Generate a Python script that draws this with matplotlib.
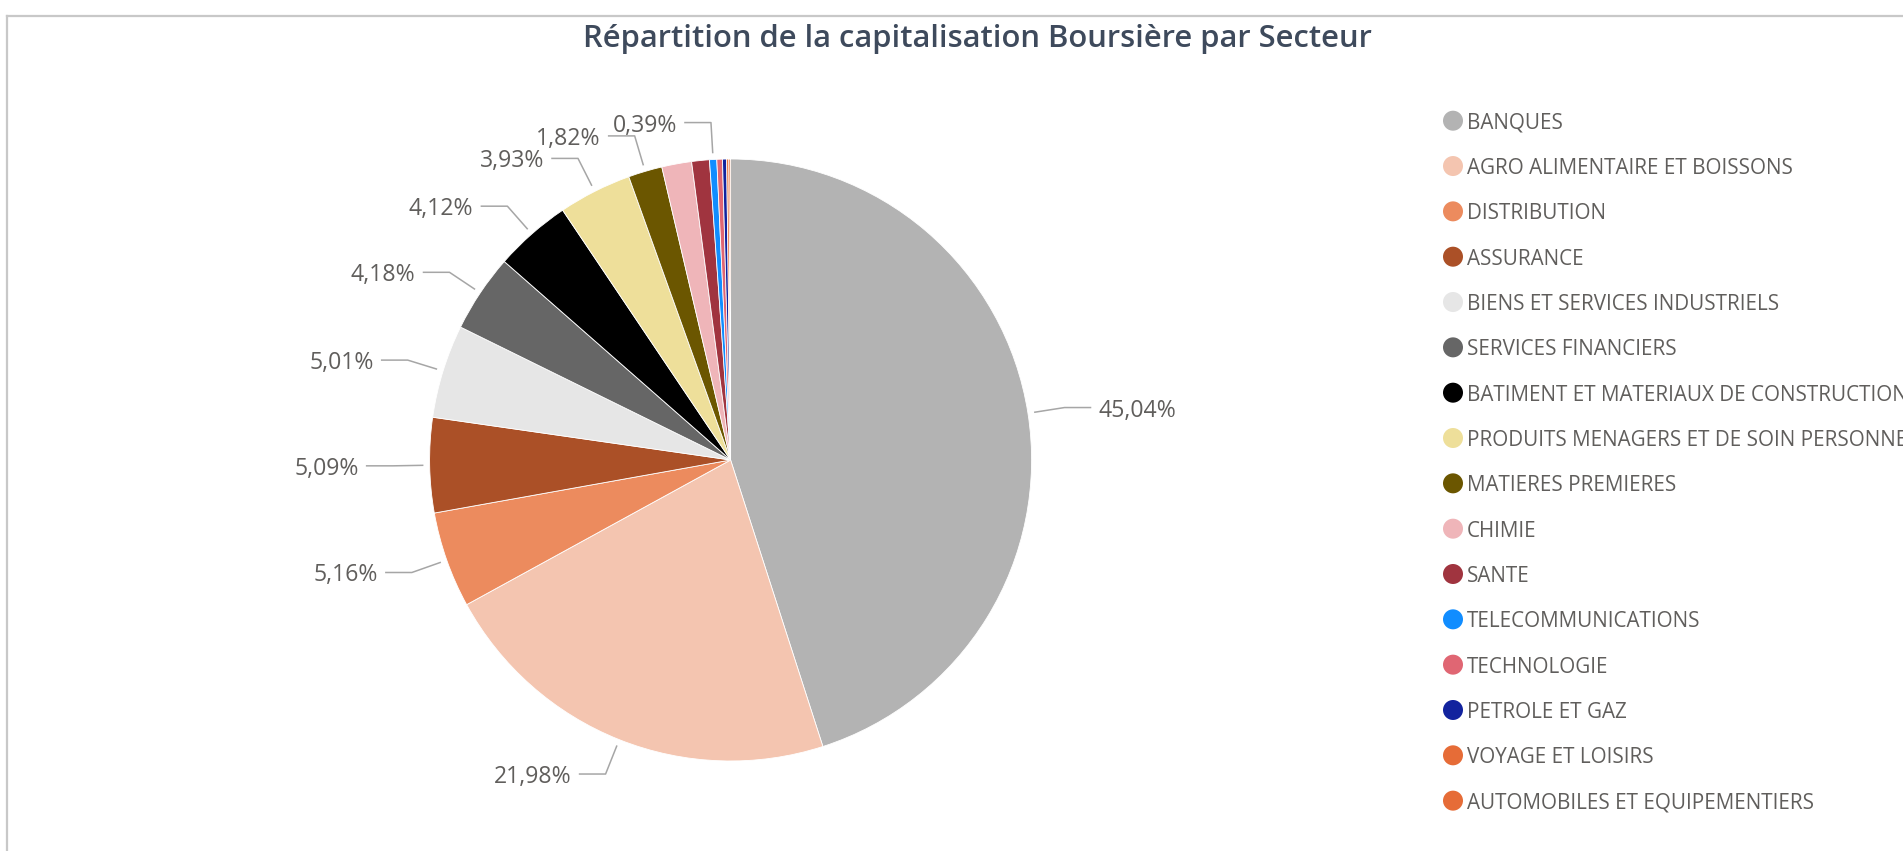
import numpy as np
import matplotlib
matplotlib.use("Agg")
import matplotlib.pyplot as plt
from matplotlib.patches import Circle
from matplotlib.lines import Line2D

# ---------------- data ----------------
sectors = [
    "BANQUES", "AGRO ALIMENTAIRE ET BOISSONS", "DISTRIBUTION", "ASSURANCE",
    "BIENS ET SERVICES INDUSTRIELS", "SERVICES FINANCIERS",
    "BATIMENT ET MATERIAUX DE CONSTRUCTION",
    "PRODUITS MENAGERS ET DE SOIN PERSONNEL", "MATIERES PREMIERES", "CHIMIE",
    "SANTE", "TELECOMMUNICATIONS", "TECHNOLOGIE", "PETROLE ET GAZ",
    "VOYAGE ET LOISIRS", "AUTOMOBILES ET EQUIPEMENTIERS",
]
shares = [45.04, 21.98, 5.16, 5.09, 5.01, 4.18, 4.12, 3.93, 1.82, 1.60,
          0.95, 0.39, 0.30, 0.22, 0.12, 0.09]
show_label = [True, True, True, True, True, True, True, True, True, False,
              False, True, False, False, False, False]
colors = ["#B3B3B3", "#F4C5B0", "#EC8B5E", "#AB5027", "#E6E6E6", "#666666",
          "#000000", "#EEDF9A", "#6B5600", "#EFB5B9", "#A0343F", "#118DFF",
          "#E06673", "#12239E", "#E66C37", "#E66C37"]
title = "Répartition de la capitalisation Boursière par Secteur"

# ---------------- figure ----------------
W, H = 1903, 851
fig = plt.figure(figsize=(W / 100, H / 100), dpi=100)
fig.patch.set_facecolor("white")
ax = fig.add_axes([0, 0, 1, 1])

def Y(y_top):
    return H - y_top

cx, cy, R = 730.6, Y(460), 301
ax.pie(shares, colors=colors, startangle=90, counterclock=False,
       center=(cx, cy), radius=R, frame=True,
       wedgeprops=dict(linewidth=0.6, edgecolor="white"))
ax.set_xlim(0, W)
ax.set_ylim(0, H)
ax.set_aspect("equal")
ax.axis("off")

label_color = "#605E5C"
line_color = "#A6A6A6"
total = sum(shares)
cum = 0.0
for v, show in zip(shares, show_label):
    mid = (cum + v / 2) / total * 2 * np.pi
    cum += v
    if not show:
        continue
    dx, dy = np.sin(mid), np.cos(mid)
    sx, sy = cx + (R + 7) * dx, cy + (R + 7) * dy
    ex, ey = cx + (R + 37) * dx, cy + (R + 37) * dy
    side = 1 if dx >= 0 else -1
    hx = ex + side * 26
    ax.add_line(Line2D([sx, ex, hx], [sy, ey, ey], color=line_color, lw=1.1))
    pct = f"{v / total * 100:.2f}".replace(".", ",") + "%"
    ax.text(hx + side * 8, ey - 9, pct, ha="left" if side > 0 else "right",
            va="baseline", fontsize=16.6, color=label_color, family="Open Sans")

# legend
leg_x, leg_y0, leg_dy = 1453, 120.7, 45.33
for i, (name, col) in enumerate(zip(sectors, colors)):
    yc = Y(leg_y0 + i * leg_dy)
    ax.add_patch(Circle((leg_x, yc), 10, color=col, lw=0))
    ax.text(leg_x + 14, yc - 8, name, ha="left", va="baseline", fontsize=14.9,
            color=label_color, family="Open Sans", clip_on=False)

# title
ax.text(977, Y(46.7), title, ha="center", va="baseline", fontsize=22.3,
        fontweight="semibold", color="#3E4A5C",
        family=["Open Sans", "DejaVu Sans"])

# visual border
fig.add_artist(Line2D([7 / W, 1], [Y(15.8) / H, Y(15.8) / H],
                      transform=fig.transFigure, color="#C8C8C8", lw=1.6))
fig.add_artist(Line2D([7 / W, 7 / W], [0, Y(15.8) / H],
                      transform=fig.transFigure, color="#C8C8C8", lw=1.6))

fig.savefig("out.png", dpi=100, facecolor="white")
